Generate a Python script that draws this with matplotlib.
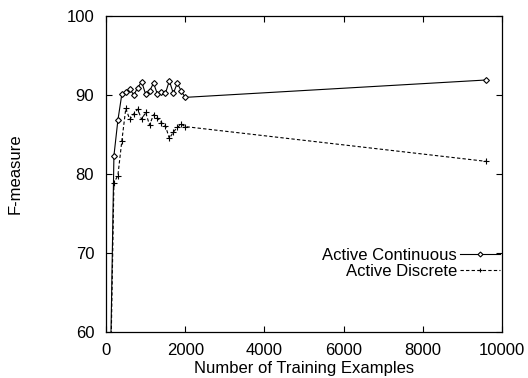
import matplotlib
matplotlib.use('Agg')
import matplotlib.pyplot as plt

plt.rcParams['font.family'] = ['Liberation Sans', 'DejaVu Sans']

# dados
x_pts = [100, 200, 300, 400, 500, 600, 700, 800, 900, 1000, 1100,
         1200, 1300, 1400, 1500, 1600, 1700, 1800, 1900, 2000, 9600]
continuous = [52.0, 82.3, 86.8, 90.1, 90.4, 90.8, 90.0, 90.9, 91.7, 90.1, 90.5,
              91.5, 90.1, 90.4, 90.2, 91.8, 90.2, 91.5, 90.5, 89.7, 91.9]
discrete = [50.0, 78.9, 79.8, 84.2, 88.3, 86.9, 87.6, 88.2, 86.9, 87.8, 86.2,
            87.5, 87.1, 86.5, 86.1, 84.5, 85.3, 85.9, 86.3, 86.0, 81.6]

x_ticks = [0, 2000, 4000, 6000, 8000, 10000]
y_ticks = [60, 70, 80, 90, 100]

fs = 12

fig = plt.figure(figsize=(5.28, 3.78), dpi=100)
ax = fig.add_axes([106 / 528, 1 - 332 / 378, 396 / 528, 316 / 378])

ax.plot(x_pts, continuous, color='black', linewidth=0.8, marker='D',
        markersize=3, markerfacecolor='white', markeredgewidth=0.8,
        label='Active Continuous')
ax.plot(x_pts, discrete, color='black', linewidth=0.8, linestyle=(0, (3, 2)),
        marker='+', markersize=4.5, markeredgewidth=0.8,
        label='Active Discrete')

ax.set_xlim(0, 10000)
ax.set_ylim(60, 100)
ax.set_xticks(x_ticks)
ax.set_yticks(y_ticks)
ax.tick_params(direction='in', length=4, width=0.8, top=True, right=True,
               labelsize=fs)
ax.tick_params(axis='y', pad=8.5)
ax.tick_params(axis='x', pad=8)
for s in ax.spines.values():
    s.set_linewidth(0.9)

ax.set_xlabel('Number of Training Examples', fontsize=fs, labelpad=2)
fig.text(15 / 528, 1 - 174 / 378, 'F-measure', rotation=90, fontsize=fs,
         ha='center', va='center')

leg = ax.legend(loc='lower right', bbox_to_anchor=(1.012, 0.148),
                markerfirst=False, frameon=False, fontsize=fs,
                handlelength=2.4, handletextpad=0.2, labelspacing=0.05,
                borderaxespad=0)
for h in leg.legend_handles:
    h.set_markersize(2.5)

fig.savefig('out.png', dpi=100)
